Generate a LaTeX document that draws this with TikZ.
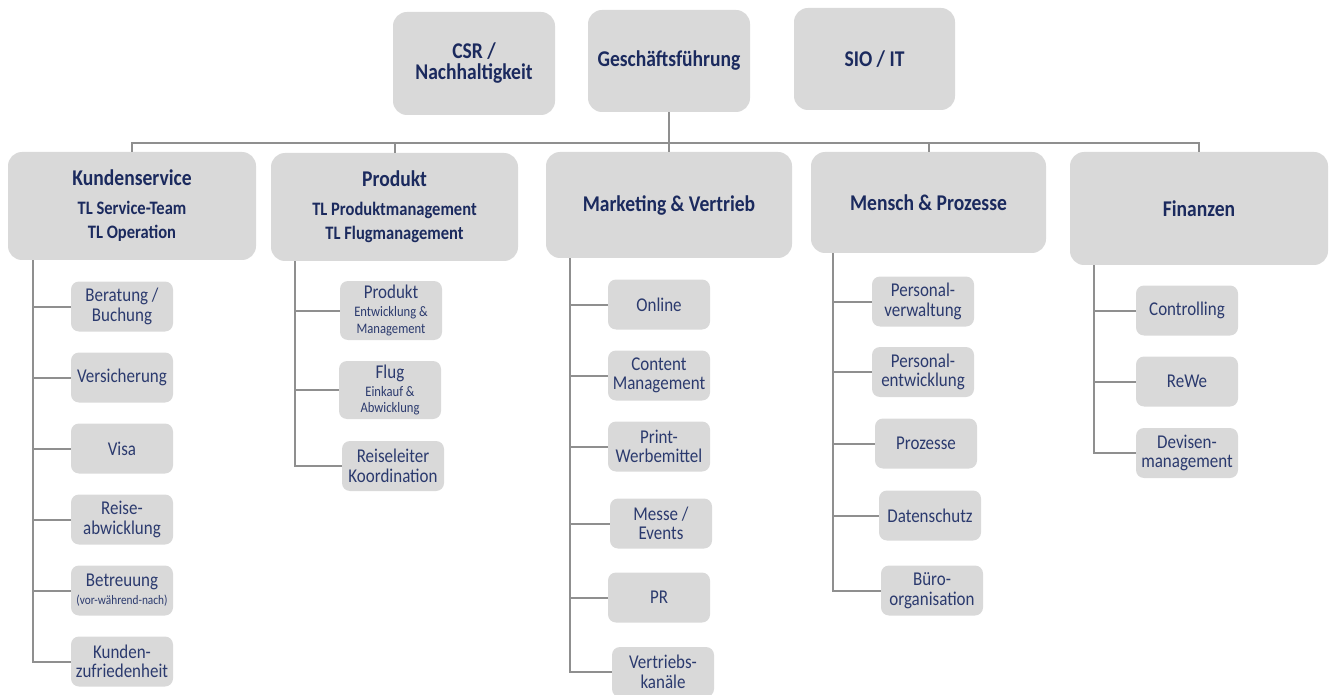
\documentclass[tikz,border=0pt]{standalone}
\usepackage{fontspec}
\setmainfont{Carlito}[FakeStretch=0.87]

\definecolor{boxgray}{HTML}{D9D9D9}
\definecolor{headblue}{HTML}{1B2A5E}
\definecolor{subblue}{HTML}{2B3A6E}
\definecolor{linegray}{HTML}{8F8F8F}

\newcommand{\tlfont}{\fontsize{19}{24}\selectfont}
\newcommand{\minifont}{\fontsize{14.5}{16}\selectfont}

\begin{document}
\begin{tikzpicture}[x=1pt,y=-1pt,
    head/.style={fill=boxgray, rounded corners=14pt, text=headblue, align=center,
      inner sep=0pt, font=\fontsize{22.5}{24}\selectfont\bfseries},
    unit/.style={fill=boxgray, rounded corners=8pt, text=subblue, align=center,
      inner sep=0pt, minimum width=102pt, minimum height=50pt,
      font=\fontsize{19.5}{19.5}\selectfont},
    link/.style={draw=linegray, line width=2pt}]
  \useasboundingbox (0,0) rectangle (1331,695);

  % top row
  \node[head, minimum width=162pt, minimum height=103pt] (csr) at (474,63.5) {CSR /\\[-3pt]Nachhaltigkeit};
  \node[head, minimum width=162pt, minimum height=102pt] (gf) at (669,61) {Geschäftsführung};
  \node[head, minimum width=161pt, minimum height=102pt] (sio) at (874.5,59) {SIO / IT};

  % departments
  \node[head, minimum width=248pt, minimum height=108pt] (ks) at (132,206)
    {Kundenservice\\[5pt]{\tlfont TL Service-Team}\\{\tlfont TL Operation}};
  \node[head, minimum width=247pt, minimum height=108pt] (pr) at (394.5,207)
    {Produkt\\[5pt]{\tlfont TL Produktmanagement}\\{\tlfont TL Flugmanagement}};
  \node[head, minimum width=246pt, minimum height=106pt] (mv) at (669,205) {Marketing \& Vertrieb};
  \node[head, minimum width=235pt, minimum height=101pt] (mp) at (928.5,202.5) {Mensch \& Prozesse};
  \node[head, minimum width=258pt, minimum height=113pt] (fi) at (1199,208.5) {Finanzen};

  \coordinate (bus) at (669,143);
  \draw[link] (gf.south) -- (bus);
  \foreach \n in {ks,pr,mv,mp,fi}
    \draw[link] (\n.north) |- (bus);

  % Kundenservice
  \node[unit] (k1) at (122,306.5) {Beratung /\\Buchung};
  \node[unit] (k2) at (122,377.5) {Versicherung};
  \node[unit] (k3) at (122,448.5) {Visa};
  \node[unit] (k4) at (122,519.5) {Reise-\\abwicklung};
  \node[unit] (k5) at (122,590.5) {Betreuung\\[-1.5pt]{\fontsize{13}{14}\selectfont(vor-während-nach)}};
  \node[unit] (k6) at (122,661.5) {Kunden-\\zufriedenheit};

  % Produkt
  \node[unit, minimum height=59pt] (p1) at (391,310.5)
    {Produkt\\[-1.5pt]{\minifont Entwicklung \&}\\[-2.5pt]{\minifont Management}};
  \node[unit, minimum height=58pt] (p2) at (390,390)
    {Flug\\[-1.5pt]{\minifont Einkauf \&}\\[-3pt]{\minifont Abwicklung}};
  \node[unit] (p3) at (393,466) {Reiseleiter\\Koordination};

  % Marketing & Vertrieb
  \node[unit] (m1) at (659,304.5) {Online};
  \node[unit] (m2) at (659,375.5) {Content\\Management};
  \node[unit] (m3) at (659,446.5) {Print-\\Werbemittel};
  \node[unit] (m4) at (661,523.5) {Messe /\\Events};
  \node[unit] (m5) at (659,597.5) {PR};
  \node[unit] (m6) at (663,672) {Vertriebs-\\kanäle};

  % Mensch & Prozesse
  \node[unit] (n1) at (923,301.5) {Personal-\\verwaltung};
  \node[unit] (n2) at (923,372) {Personal-\\entwicklung};
  \node[unit] (n3) at (926,443.5) {Prozesse};
  \node[unit] (n4) at (930,515.5) {Datenschutz};
  \node[unit] (n5) at (932,590.5) {Büro-\\organisation};

  % Finanzen
  \node[unit] (f1) at (1187,310.5) {Controlling};
  \node[unit] (f2) at (1187,381.5) {ReWe};
  \node[unit] (f3) at (1187,453) {Devisen-\\management};

  % trunks
  \coordinate (kst) at (33,0);
  \coordinate (pst) at (295,0);
  \coordinate (mst) at (570,0);
  \coordinate (nst) at (833,0);
  \coordinate (fst) at (1094,0);
  \foreach \i in {1,...,6}
    \draw[link] (kst |- ks.south) |- (k\i.west);
  \foreach \i in {1,...,3}
    \draw[link] (pst |- pr.south) |- (p\i.west);
  \foreach \i in {1,...,6}
    \draw[link] (mst |- mv.south) |- (m\i.west);
  \foreach \i in {1,...,5}
    \draw[link] (nst |- mp.south) |- (n\i.west);
  \foreach \i in {1,...,3}
    \draw[link] (fst |- fi.south) |- (f\i.west);
\end{tikzpicture}
\end{document}
